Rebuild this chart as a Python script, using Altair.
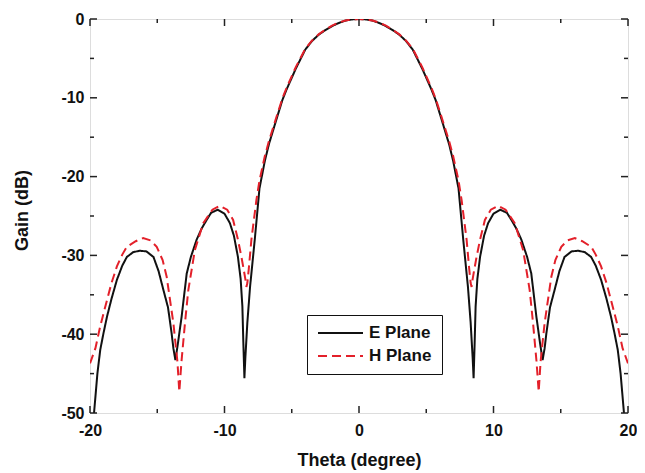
import altair as alt
import pandas as pd

# ---------------- data ----------------
e_theta = [-19.7, -19.45, -19.24, -19.0, -18.74, -18.4, -18.0, -17.6, -17.26, -16.8,
           -16.3, -15.8, -15.28, -14.9, -14.54, -14.2, -13.93, -13.8, -13.65, -13.45,
           -13.19, -12.81, -12.5, -12.07, -11.7, -11.33, -11.0, -10.5, -10.0, -9.6,
           -9.3, -9.0, -8.8, -8.67, -8.6, -8.52, -8.45, -8.3, -8.1, -7.75,
           -7.4, -7.0, -6.7, -6.15, -5.7, -5.4, -4.7, -4.0, -3.5, -3.0,
           -2.5, -2.0, -1.5, -1.0, -0.5, 0.0,
           0.5, 1.0, 1.5, 2.0, 2.5, 3.0, 3.5, 4.0, 4.7, 5.4,
           5.7, 6.15, 6.7, 7.0, 7.4, 7.75, 8.1, 8.3, 8.45, 8.52,
           8.6, 8.67, 8.8, 9.0, 9.3, 9.6, 10.0, 10.5, 11.0, 11.33,
           11.7, 12.07, 12.5, 12.81, 13.19, 13.45, 13.65, 13.8, 13.93, 14.2,
           14.54, 14.9, 15.28, 15.8, 16.3, 16.8, 17.26, 17.6, 18.0, 18.4,
           18.74, 19.0, 19.24, 19.45, 19.7]
e_gain = [-50.0, -45.0, -42.0, -39.9, -37.8, -35.5, -33.1, -31.3, -30.2, -29.6,
          -29.4, -29.5, -30.2, -32.0, -34.4, -36.6, -39.9, -41.8, -43.3, -41.0,
          -37.8, -32.3, -30.2, -28.0, -26.6, -25.5, -24.6, -24.2, -24.7, -25.9,
          -27.5, -30.2, -33.0, -36.5, -41.0, -45.6, -43.0, -38.5, -34.0, -28.0,
          -21.5, -18.0, -15.9, -12.8, -10.3, -9.0, -6.3, -3.9, -2.8, -2.0,
          -1.4, -0.9, -0.5, -0.2, -0.05, 0.0,
          -0.05, -0.2, -0.5, -0.9, -1.4, -2.0, -2.8, -3.9, -6.3, -9.0,
          -10.3, -12.8, -15.9, -18.0, -21.5, -28.0, -34.0, -38.5, -43.0, -45.6,
          -41.0, -36.5, -33.0, -30.2, -27.5, -25.9, -24.7, -24.2, -24.6, -25.5,
          -26.6, -28.0, -30.2, -32.3, -37.8, -41.0, -43.3, -41.8, -39.9, -36.6,
          -34.4, -32.0, -30.2, -29.5, -29.4, -29.6, -30.2, -31.3, -33.1, -35.5,
          -37.8, -39.9, -42.0, -45.0, -50.0]

h_theta = [-20.0, -19.6, -19.24, -19.0, -18.74, -18.4, -18.0, -17.6, -17.26, -16.6,
           -16.05, -15.5, -15.04, -14.6, -14.3, -13.8, -13.5, -13.36, -13.2, -12.94,
           -12.69, -12.2, -11.58, -10.9, -10.35, -9.8, -9.36, -9.0, -8.74, -8.55,
           -8.45, -8.37, -8.3, -8.2, -8.0, -7.63, -7.4, -7.0, -6.7, -6.15,
           -5.7, -5.4, -4.7, -4.0, -3.5, -3.0, -2.5, -2.0, -1.5, -1.0,
           -0.5, 0.0,
           0.5, 1.0, 1.5, 2.0, 2.5, 3.0, 3.5, 4.0, 4.7, 5.4,
           5.7, 6.15, 6.7, 7.0, 7.4, 7.63, 8.0, 8.2, 8.3, 8.37,
           8.45, 8.55, 8.74, 9.0, 9.36, 9.8, 10.35, 10.9, 11.58, 12.2,
           12.69, 12.94, 13.2, 13.36, 13.5, 13.8, 14.3, 14.6, 15.04, 15.5,
           16.05, 16.6, 17.26, 17.6, 18.0, 18.4, 18.74, 19.0, 19.24, 19.6,
           20.0]
h_gain = [-43.7, -41.8, -39.0, -37.4, -35.7, -33.5, -31.4, -29.9, -28.9, -28.2,
          -27.8, -28.1, -28.9, -30.6, -32.7, -38.6, -43.5, -47.3, -43.5, -38.6,
          -34.4, -29.3, -25.9, -24.2, -23.7, -24.2, -25.5, -28.0, -30.2, -32.0,
          -33.0, -34.0, -33.5, -31.8, -28.0, -23.0, -20.5, -17.4, -15.5, -12.5,
          -10.1, -8.8, -6.1, -3.8, -2.75, -1.95, -1.35, -0.85, -0.45, -0.2,
          -0.05, 0.0,
          -0.05, -0.2, -0.45, -0.85, -1.35, -1.95, -2.75, -3.8, -6.1, -8.8,
          -10.1, -12.5, -15.5, -17.4, -20.5, -23.0, -28.0, -31.8, -33.5, -34.0,
          -33.0, -32.0, -30.2, -28.0, -25.5, -24.2, -23.7, -24.2, -25.9, -29.3,
          -34.4, -38.6, -43.5, -47.3, -43.5, -38.6, -32.7, -30.6, -28.9, -28.1,
          -27.8, -28.2, -28.9, -29.9, -31.4, -33.5, -35.7, -37.4, -39.0, -41.8,
          -43.7]

series_names = ["E Plane", "H Plane"]
series_colors = ["#111111", "#e3202a"]

x_major = [-20, -10, 0, 10, 20]
x_minor = [-15, -5, 5, 15]
y_major = [-50, -40, -30, -20, -10, 0]
y_minor = [-45, -35, -25, -15, -5]

# ---------------- tables ----------------
lines_df = pd.concat([
    pd.DataFrame({"theta": e_theta, "gain": e_gain, "plane": series_names[0]}),
    pd.DataFrame({"theta": h_theta, "gain": h_gain, "plane": series_names[1]}),
], ignore_index=True)

W, H = 538, 394
FONT = "Liberation Sans"

xscale = alt.Scale(domain=[-20, 20], nice=False, zero=False)
yscale = alt.Scale(domain=[-50, 0], nice=False, zero=False)

xaxis = alt.Axis(values=x_major, ticks=False, domain=False, grid=False,
                 labelFont=FONT, labelFontWeight="bold", labelFontSize=16,
                 labelColor="#111", labelPadding=9, labelFlush=False,
                 labelOverlap=False, labelExpr="'' + datum.value",
                 title="Theta (degree)", titleFont=FONT, titleFontWeight="bold",
                 titleFontSize=18, titleColor="#111", titleY=52,
                 titleBaseline="alphabetic")
yaxis = alt.Axis(values=y_major, ticks=False, domain=False, grid=False,
                 labelFont=FONT, labelFontWeight="bold", labelFontSize=16,
                 labelColor="#111", labelPadding=6, labelFlush=False,
                 labelOverlap=False, labelExpr="'' + datum.value",
                 title="Gain (dB)", titleFont=FONT, titleFontWeight="bold",
                 titleFontSize=18, titleColor="#111", titleX=-63, titleY=191,
                 titleAlign="center", titleBaseline="alphabetic", titleAngle=-90)

lines = alt.Chart(lines_df).mark_line(strokeWidth=2, clip=True).encode(
    x=alt.X("theta:Q", scale=xscale, axis=xaxis),
    y=alt.Y("gain:Q", scale=yscale, axis=yaxis),
    color=alt.Color("plane:N",
                    scale=alt.Scale(domain=series_names, range=series_colors),
                    legend=alt.Legend(orient="none", legendX=217, legendY=296,
                                      title=None, strokeColor="#111",
                                      fillColor="white", padding=10,
                                      symbolType="stroke", symbolSize=2025,
                                      symbolStrokeWidth=2, labelFont=FONT,
                                      labelFontWeight="bold", labelFontSize=17,
                                      labelColor="#111", rowPadding=6,
                                      clipHeight=16, labelOffset=5)),
    strokeDash=alt.StrokeDash("plane:N",
                              scale=alt.Scale(domain=series_names,
                                              range=[[1, 0], [9, 5]]),
                              legend=None),
)

# inward tick marks on all four sides
xmaj_df = pd.DataFrame({"t": x_major})
xmin_df = pd.DataFrame({"t": x_minor})
ymaj_df = pd.DataFrame({"t": y_major})
ymin_df = pd.DataFrame({"t": y_minor})

tick_color = "#222"

def xticks(df, length):
    base = alt.Chart(df).mark_rule(color=tick_color, strokeWidth=1.5)
    bottom = base.encode(x=alt.X("t:Q", scale=xscale), y=alt.value(H), y2=alt.value(H - length))
    top = base.encode(x=alt.X("t:Q", scale=xscale), y=alt.value(0), y2=alt.value(length))
    return [bottom, top]

def yticks(df, length):
    base = alt.Chart(df).mark_rule(color=tick_color, strokeWidth=1.5)
    left = base.encode(y=alt.Y("t:Q", scale=yscale), x=alt.value(0), x2=alt.value(length))
    right = base.encode(y=alt.Y("t:Q", scale=yscale), x=alt.value(W), x2=alt.value(W - length))
    return [left, right]

tick_layers = xticks(xmaj_df, 7) + xticks(xmin_df, 4) + yticks(ymaj_df, 7) + yticks(ymin_df, 4)

chart = alt.layer(lines, *tick_layers).properties(
    width=W, height=H,
    autosize=alt.AutoSizeParams(type="none"),
    padding={"left": 82, "top": 11, "right": 9, "bottom": 62},
).configure_view(stroke="#222", strokeWidth=1.5).configure(background="white")

chart.save("out.html", embed_options={"renderer": "svg", "actions": False})
